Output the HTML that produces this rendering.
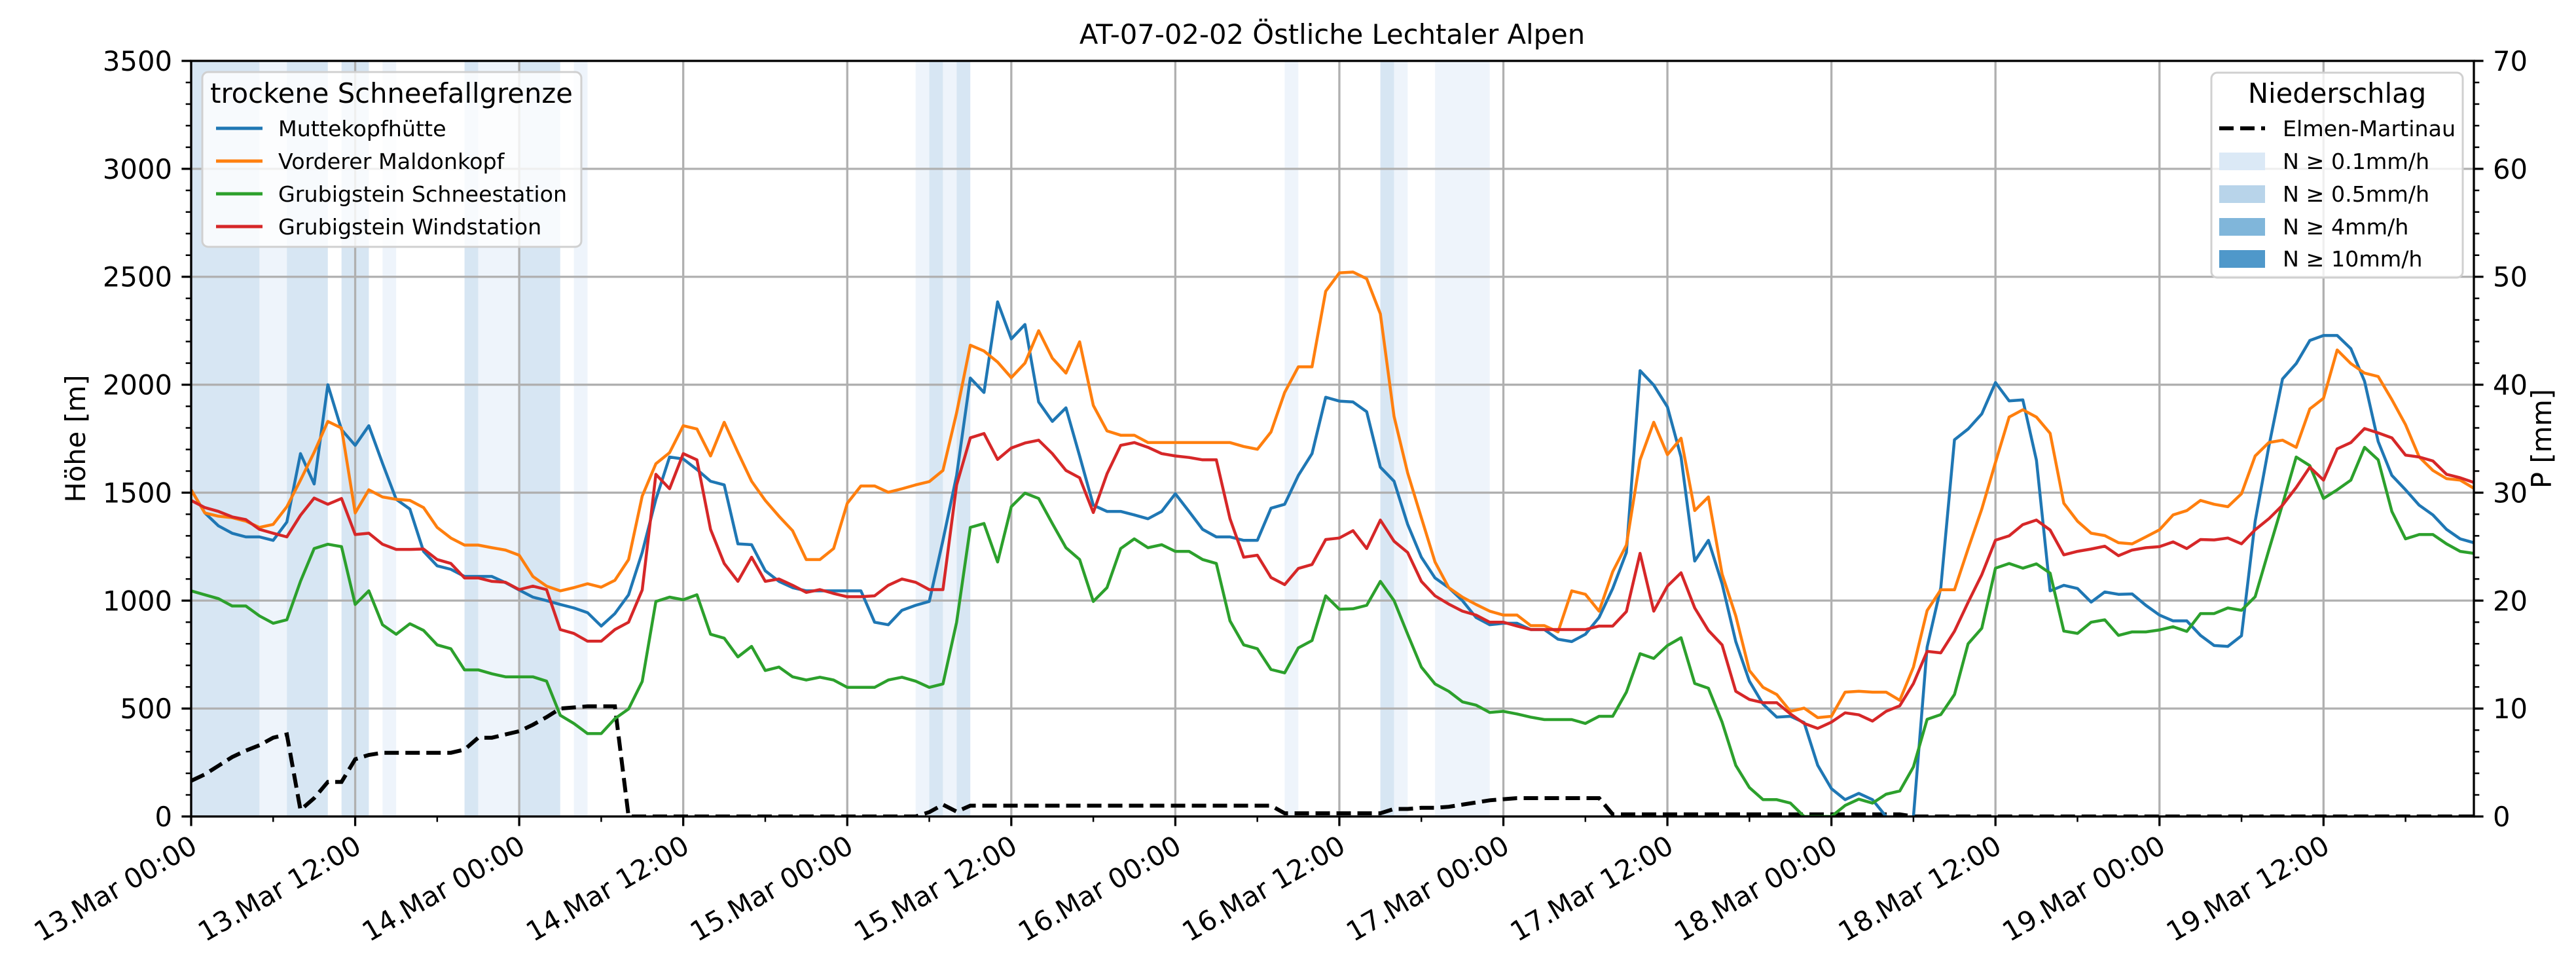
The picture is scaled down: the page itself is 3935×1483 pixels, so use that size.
<!DOCTYPE html>
<html><head><meta charset="utf-8"><title>AT-07-02-02 Östliche Lechtaler Alpen</title>
<style>
html,body{margin:0;padding:0;background:#fff;}
svg{display:block;font-family:"DejaVu Sans","Liberation Sans",sans-serif;}
</style></head>
<body>
<svg id="chart" xmlns="http://www.w3.org/2000/svg" width="3935" height="1483" viewBox="0 0 3935 1483">
<rect x="0" y="0" width="3935" height="1483" fill="#fff"/>
<g id="bands"></g>
<g id="grid"></g>
<g id="series"></g>
<g id="axes"></g>
<text x="2035" y="67" font-size="41.7" text-anchor="middle">AT-07-02-02 Östliche Lechtaler Alpen</text>
<text transform="translate(130,670) rotate(-90)" font-size="41.7" text-anchor="middle">Höhe [m]</text>
<text transform="translate(3897,670) rotate(-90)" font-size="41.7" text-anchor="middle">P [mm]</text>

<g>
<rect x="309" y="110" width="579" height="267" rx="9" fill="#fff" fill-opacity="0.8" stroke="#d0d0d0" stroke-width="3"/>
<text x="598" y="157" font-size="41.7" text-anchor="middle">trockene Schneefallgrenze</text>
<g><line x1="330" y1="196" x2="401" y2="196" stroke="#1f77b4" stroke-width="5"/><text x="425" y="208" font-size="33.3">Muttekopfhütte</text></g>
<g><line x1="330" y1="246" x2="401" y2="246" stroke="#ff7f0e" stroke-width="5"/><text x="425" y="258" font-size="33.3">Vorderer Maldonkopf</text></g>
<g><line x1="330" y1="296" x2="401" y2="296" stroke="#2ca02c" stroke-width="5"/><text x="425" y="308" font-size="33.3">Grubigstein Schneestation</text></g>
<g><line x1="330" y1="346" x2="401" y2="346" stroke="#d62728" stroke-width="5"/><text x="425" y="358" font-size="33.3">Grubigstein Windstation</text></g>
</g>

<g>
<rect x="3378" y="111" width="384" height="313" rx="9" fill="#fff" fill-opacity="0.8" stroke="#d0d0d0" stroke-width="3"/>
<text x="3570" y="157" font-size="41.7" text-anchor="middle">Niederschlag</text>
<g><line x1="3390" y1="196" x2="3460" y2="196" stroke="#000" stroke-width="6" stroke-dasharray="22,10"/><text x="3487" y="208" font-size="33.3">Elmen-Martinau</text></g>
<g><rect x="3390" y="233" width="70" height="27" fill="#dbe9f6"/><text x="3487" y="258" font-size="33.3">N ≥ 0.1mm/h</text></g>
<g><rect x="3390" y="283" width="70" height="27" fill="#b8d4ea"/><text x="3487" y="308" font-size="33.3">N ≥ 0.5mm/h</text></g>
<g><rect x="3390" y="333" width="70" height="27" fill="#80b6da"/><text x="3487" y="358" font-size="33.3">N ≥ 4mm/h</text></g>
<g><rect x="3390" y="382" width="70" height="27" fill="#4f98ca"/><text x="3487" y="407" font-size="33.3">N ≥ 10mm/h</text></g>
</g>
</svg>
<script>
// ---- data (hourly, starting 13.Mar 00:00) ----
const hourLabels = ["13.Mar 00:00","13.Mar 12:00","14.Mar 00:00","14.Mar 12:00","15.Mar 00:00","15.Mar 12:00","16.Mar 00:00","16.Mar 12:00","17.Mar 00:00","17.Mar 12:00","18.Mar 00:00","18.Mar 12:00","19.Mar 00:00","19.Mar 12:00"];
const leftTicks = [0,500,1000,1500,2000,2500,3000,3500];
const rightTicks = [0,10,20,30,40,50,60,70];
const muttekopf = [1513,1406,1346,1312,1295,1295,1279,1364,1681,1540,2000,1792,1719,1810,1636,1469,1424,1228,1161,1145,1112,1112,
1112,1083,1049,1016,1000,982,966,944,882,940,1027,1223,1469,1665,1656,1607,1553,1536,1263,1259,1138,
1089,1060,1045,1045,1045,1045,1045,900,888,955,978,996,1279,1580,2031,1964,2384,2212,2279,1920,1830,
1893,1670,1442,1413,1413,1397,1379,1413,1495,1413,1330,1295,1295,1279,1279,1428,1446,1580,1681,1942,1924,
1920,1875,1618,1553,1353,1201,1105,1060,1000,922,888,895,895,866,866,821,810,844,922,1056,1223,
2065,1998,1897,1665,1183,1279,1078,810,627,520,460,464,435,237,129,78,107,78,0,null,0,
785,1060,1745,1795,1865,2010,1925,1930,1650,1045,
1071,1056,993,1040,1029,1031,978,933,906,906,839,792,788,837,1368,1714,2027,2098,2205,2228,2228,
2167,2016,1737,1580,1513,1442,1397,1330,1286,1268];
const maldonkopf = [1513,1406,1391,1384,1368,1339,1353,1435,1558,1687,1830,1799,1406,1513,1480,1469,1464,1431,1339,1290,1257,1257,
1245,1234,1210,1112,1067,1045,1060,1078,1062,1094,1190,1484,1634,1685,1810,1795,1670,1826,1687,1553,1464,
1391,1324,1190,1190,1241,1451,1531,1531,1502,1518,1536,1551,1603,1870,2183,2156,2105,2033,2100,2250,2123,
2054,2199,1904,1786,1766,1766,1732,1732,1732,1732,1732,1732,1732,1714,1701,1781,1964,2083,2083,2433,2518,
2522,2491,2328,1853,1591,1384,1179,1060,1016,982,951,933,933,884,884,855,1045,1029,951,1134,1257,
1652,1826,1676,1752,1417,1480,1123,929,676,598,565,487,502,458,464,576,580,576,576,538,692,
954,1050,1050,1240,1424,1640,1850,1884,1850,1775,
1451,1368,1312,1301,1268,1263,1295,1328,1397,1417,1464,1446,1435,1495,1670,1732,1743,1710,1888,1937,2161,
2098,2054,2038,1931,1815,1665,1603,1565,1558,1520];
const schneestation = [1045,1027,1009,975,975,929,895,911,1089,1241,1261,1250,982,1045,888,844,893,862,795,777,679,679,
661,647,647,647,627,469,431,384,384,453,498,625,996,1016,1004,1027,844,826,739,788,676,
692,647,632,645,632,598,598,598,632,645,627,598,614,900,1339,1357,1179,1435,1498,1473,1357,
1245,1190,996,1060,1241,1286,1245,1259,1228,1228,1190,1172,906,795,777,681,665,781,815,1022,960,
962,978,1089,1000,844,692,614,580,531,516,482,487,475,460,449,449,449,431,464,464,576,
754,732,792,828,616,594,437,237,134,78,78,62,0,0,0,51,80,62,103,118,230,
450,472,565,800,872,1150,1172,1150,1170,1127,
859,848,900,911,839,855,855,864,879,857,940,940,966,955,1018,1234,1446,1665,1625,1473,1513,
1558,1710,1652,1413,1286,1306,1306,1263,1228,1219];
const windstation = [1464,1431,1413,1388,1375,1330,1312,1295,1395,1475,1446,1473,1306,1312,1261,1237,1237,1239,1190,1172,1105,1105,
1089,1085,1051,1067,1051,866,848,812,812,866,900,1049,1585,1518,1681,1652,1330,1172,1089,1201,1089,
1100,1071,1038,1051,1033,1018,1018,1022,1071,1100,1085,1051,1051,1536,1754,1774,1654,1707,1730,1743,1681,
1603,1569,1408,1587,1719,1732,1710,1681,1670,1663,1652,1652,1379,1201,1210,1107,1074,1149,1167,1283,1290,
1324,1241,1373,1275,1223,1089,1022,984,951,933,900,900,882,866,866,866,866,866,882,882,949,
1219,951,1067,1129,966,862,795,580,542,527,527,475,431,408,437,480,471,442,487,513,616,
765,758,858,992,1120,1280,1300,1352,1373,1327,
1212,1228,1239,1252,1208,1234,1245,1250,1272,1241,1283,1281,1290,1263,1328,1379,1442,1524,1618,1558,1703,
1732,1797,1777,1754,1674,1665,1647,1585,1569,1547];
const precipSum = [3.3,3.9,4.7,5.5,6.1,6.6,7.3,7.6,0.6,1.7,3.2,3.2,5.3,5.7,5.9,5.9,5.9,5.9,5.9,5.9,6.2,7.3,
7.3,7.6,7.9,8.5,9.2,10.0,10.1,10.2,10.2,10.2,
0,0,0,0,0,0,0,0,0,0,0,0,0,0,0,0,0,0,0,0,0,0,
0.4,1.1,0.45,
1.0,1.0,1.0,1.0,1.0,1.0,1.0,1.0,1.0,1.0,1.0,1.0,1.0,1.0,1.0,1.0,1.0,1.0,1.0,1.0,1.0,1.0,1.0,
0.3,0.3,0.3,0.3,0.3,0.3,0.3,0.3,
0.7,0.7,0.8,0.8,0.9,1.1,1.3,1.5,1.6,1.7,1.7,1.7,1.7,1.7,1.7,1.7,
0.2,0.2,0.2,0.2,0.2,0.2,0.2,0.2,0.2,0.2,0.2,0.2,0.2,0.2,0.2,0.2,0.2,0.2,0.2,0.2,0.2,0.2,
0,0,0,0,0,0,0,0,0,0,0,0,0,0,0,0,0,0,0,0,0,0,0,0,0,0,0,0,0,0,0,0,0,0,0,0,0,0,0,0,0,0];
const bandStart = [0,5,7,11,14,20,21,24,28,53,54,55,56,80,87,88,91];
const bandEnd   = [5,7,10,13,15,21,24,27,29,54,55,56,57,81,88,89,95];
const bandLevel = [2,1,2,2,1,2,1,2,1,1,2,1,2,1,2,1,1];

// ---- axes ----
const L=292, R=3779, T=93, B=1247, TMAX=167;
const NS="http://www.w3.org/2000/svg";
function xS(t){return L+(R-L)*t/TMAX;}
function yL(v){return B-(B-T)*v/3500;}
function yR(p){return B-(B-T)*p/70;}
function mk(tag,attrs,parent){const e=document.createElementNS(NS,tag);for(const k in attrs)e.setAttribute(k,attrs[k]);parent.appendChild(e);return e;}
const gB=document.getElementById('bands'),gG=document.getElementById('grid'),gS=document.getElementById('series'),gA=document.getElementById('axes');

bandStart.forEach((s,i)=>{
  const r=mk('rect',{x:xS(s),y:T,width:xS(bandEnd[i])-xS(s),height:B-T,fill:bandLevel[i]===2?'#d7e6f3':'#eef4fb'},gB);
  
  
});
hourLabels.forEach((lab,i)=>{
  const x=xS(i*12);
  const l=mk('line',{x1:x,y1:T,x2:x,y2:B,stroke:'#b0b0b0','stroke-width':3.3},gG);
  
  
});
leftTicks.forEach(v=>{
  const l=mk('line',{x1:L,y1:yL(v),x2:R,y2:yL(v),stroke:'#b0b0b0','stroke-width':3.3},gG);
  
  
});
function linePath(arr,scale){
  let d='',pen=false;
  arr.forEach((v,i)=>{
    if(v===null){pen=false;return;}
    d+=(pen?'L':'M')+xS(i).toFixed(1)+','+scale(v).toFixed(1);pen=true;
  });
  return d;
}
const clip=mk('clipPath',{id:'plotclip'},gS);
mk('rect',{x:L,y:T,width:R-L,height:B-T},clip);
const pp=mk('path',{d:linePath(precipSum,yR),fill:'none',stroke:'#000','stroke-width':6,'stroke-dasharray':'22,10','clip-path':'url(#plotclip)'},gS);


const seriesList=[[muttekopf,'#1f77b4','muttekopfhuette-line'],[maldonkopf,'#ff7f0e','vorderer-maldonkopf-line'],[schneestation,'#2ca02c','grubigstein-schneestation-line'],[windstation,'#d62728','grubigstein-windstation-line']];
seriesList.forEach(s=>{
  const p=mk('path',{d:linePath(s[0],yL),fill:'none',stroke:s[1],'stroke-width':4.5,'stroke-linejoin':'round','clip-path':'url(#plotclip)'},gS);
  
  
});
const sp=mk('rect',{x:L,y:T,width:R-L,height:B-T,fill:'none',stroke:'#000','stroke-width':3.3},gA);


for(let t=0;t<=TMAX;t+=6){
  const major=(t%12===0);
  const l=mk('line',{x1:xS(t),y1:B,x2:xS(t),y2:B+(major?14.6:8.3),stroke:'#000','stroke-width':major?3.3:2.5},gA);
  
  
}
hourLabels.forEach((lab,i)=>{
  const x=xS(i*12)+12,y=1300;
  const tx=mk('text',{x:x,y:y,'font-size':41.7,'text-anchor':'end',transform:'rotate(-30 '+x+' '+y+')'},gA);
  tx.textContent=lab;
  
  
});
for(let v=0;v<=3500;v+=100){
  const major=(v%500===0);
  const l=mk('line',{x1:L,y1:yL(v),x2:L-(major?14.6:8.3),y2:yL(v),stroke:'#000','stroke-width':major?3.3:2.5},gA);
  
  
}
leftTicks.forEach(v=>{
  const tx=mk('text',{x:L-29,y:yL(v)+15,'font-size':41.7,'text-anchor':'end'},gA);
  tx.textContent=String(v);
  
  
});
for(let p=0;p<=70;p+=2){
  const major=(p%10===0);
  const l=mk('line',{x1:R,y1:yR(p),x2:R+(major?14.6:8.3),y2:yR(p),stroke:'#000','stroke-width':major?3.3:2.5},gA);
  
  
}
rightTicks.forEach(p=>{
  const tx=mk('text',{x:R+29,y:yR(p)+15,'font-size':41.7,'text-anchor':'start'},gA);
  tx.textContent=String(p);
  
  
});
</script>
</body></html>
